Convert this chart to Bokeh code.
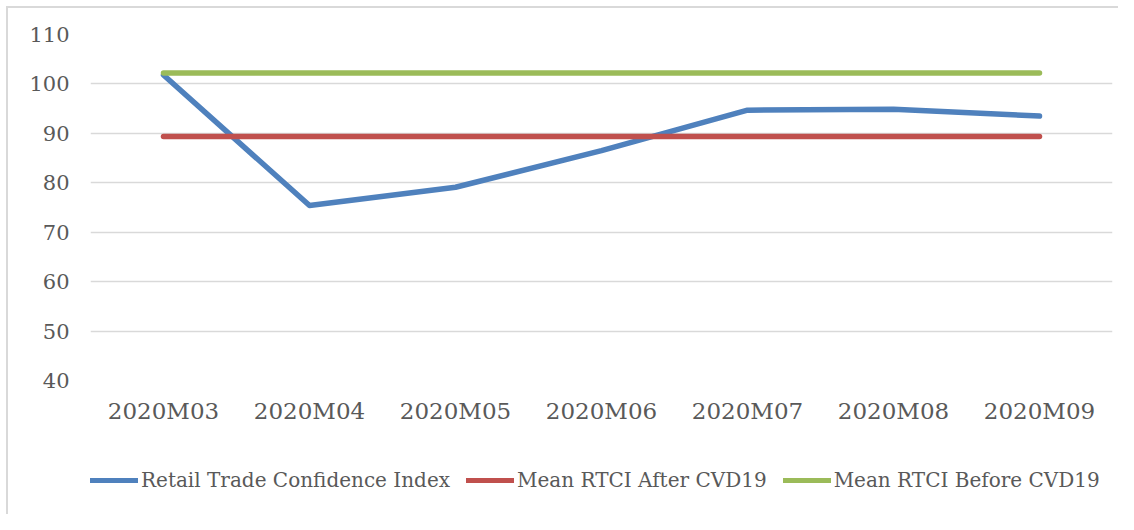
from bokeh.plotting import figure
from bokeh.models import Legend, LegendItem, FixedTicker, Range1d, FactorRange
from bokeh.layouts import column
from bokeh.embed import file_html
from bokeh.resources import INLINE

months = ["2020M03", "2020M04", "2020M05", "2020M06", "2020M07", "2020M08", "2020M09"]
rtci = [101.8, 75.4, 79.1, 86.5, 94.7, 94.9, 93.5]
mean_after = [89.35] * 7
mean_before = [102.2] * 7
y_ticks = [40, 50, 60, 70, 80, 90, 100, 110]
series_names = ["Retail Trade Confidence Index", "Mean RTCI After CVD19", "Mean RTCI Before CVD19"]
series_colors = ["#4F81BD", "#C0504D", "#9BBB59"]

FONT = "DejaVu Serif"
W = 1118

p = figure(x_range=FactorRange(*months, range_padding=0), y_range=Range1d(40, 110),
           width=W, height=426, output_backend="svg", toolbar_location=None,
           min_border_left=90, min_border_right=6, min_border_top=34, min_border_bottom=42)
p.outline_line_color = None
p.border_fill_alpha = 0
p.background_fill_alpha = 0

for vals, col in zip([rtci, mean_after, mean_before], series_colors):
    p.line(months, vals, line_color=col, line_width=5.5, line_cap="round", line_join="round")

p.xgrid.grid_line_color = None
p.ygrid.grid_line_color = "#d9d9d9"
p.ygrid.grid_line_width = 1.5
p.yaxis.ticker = FixedTicker(ticks=y_ticks)
for ax in (p.xaxis[0], p.yaxis[0]):
    ax.axis_line_color = None
    ax.major_tick_line_color = None
    ax.minor_tick_line_color = None
    ax.major_label_text_font = FONT
    ax.major_label_text_color = "#595959"
p.yaxis.major_label_text_font_size = "21px"
p.xaxis.major_label_text_font_size = "23px"
p.yaxis.major_label_standoff = 15
p.xaxis.major_label_standoff = 11

# legend strip below the chart (its frame is aligned with the chart's frame)
q = figure(x_range=Range1d(0, 1), y_range=Range1d(0, 1), width=W, height=88,
           output_backend="svg", toolbar_location=None, x_axis_type=None, y_axis_type=None,
           min_border_left=90, min_border_right=6, min_border_top=0, min_border_bottom=0)
q.outline_line_color = None
q.border_fill_alpha = 0
q.background_fill_alpha = 0
q.grid.visible = False
items = []
for name, col in zip(series_names, series_colors):
    # legend-key renderers only; their points lie outside the visible range
    r = q.line([5, 6], [5, 6], line_color=col, line_width=5, line_cap="round")
    items.append(LegendItem(label=name, renderers=[r]))
legend = Legend(items=items, orientation="horizontal", location=(0, 22),
                label_text_font=FONT, label_text_font_size="20px", label_text_color="#595959",
                glyph_width=48, label_standoff=3, spacing=16, padding=0, margin=0,
                border_line_color=None, background_fill_alpha=0)
q.add_layout(legend, "center")

layout = column(p, q, spacing=0)
layout.styles = {
    "background": "linear-gradient(#d9d9d9,#d9d9d9) 6px 6px / 2px 100% no-repeat, "
                  "linear-gradient(#d9d9d9,#d9d9d9) 6px 6px / 100% 2px no-repeat, #ffffff",
}

open("out.html", "w").write(file_html(layout, INLINE))
